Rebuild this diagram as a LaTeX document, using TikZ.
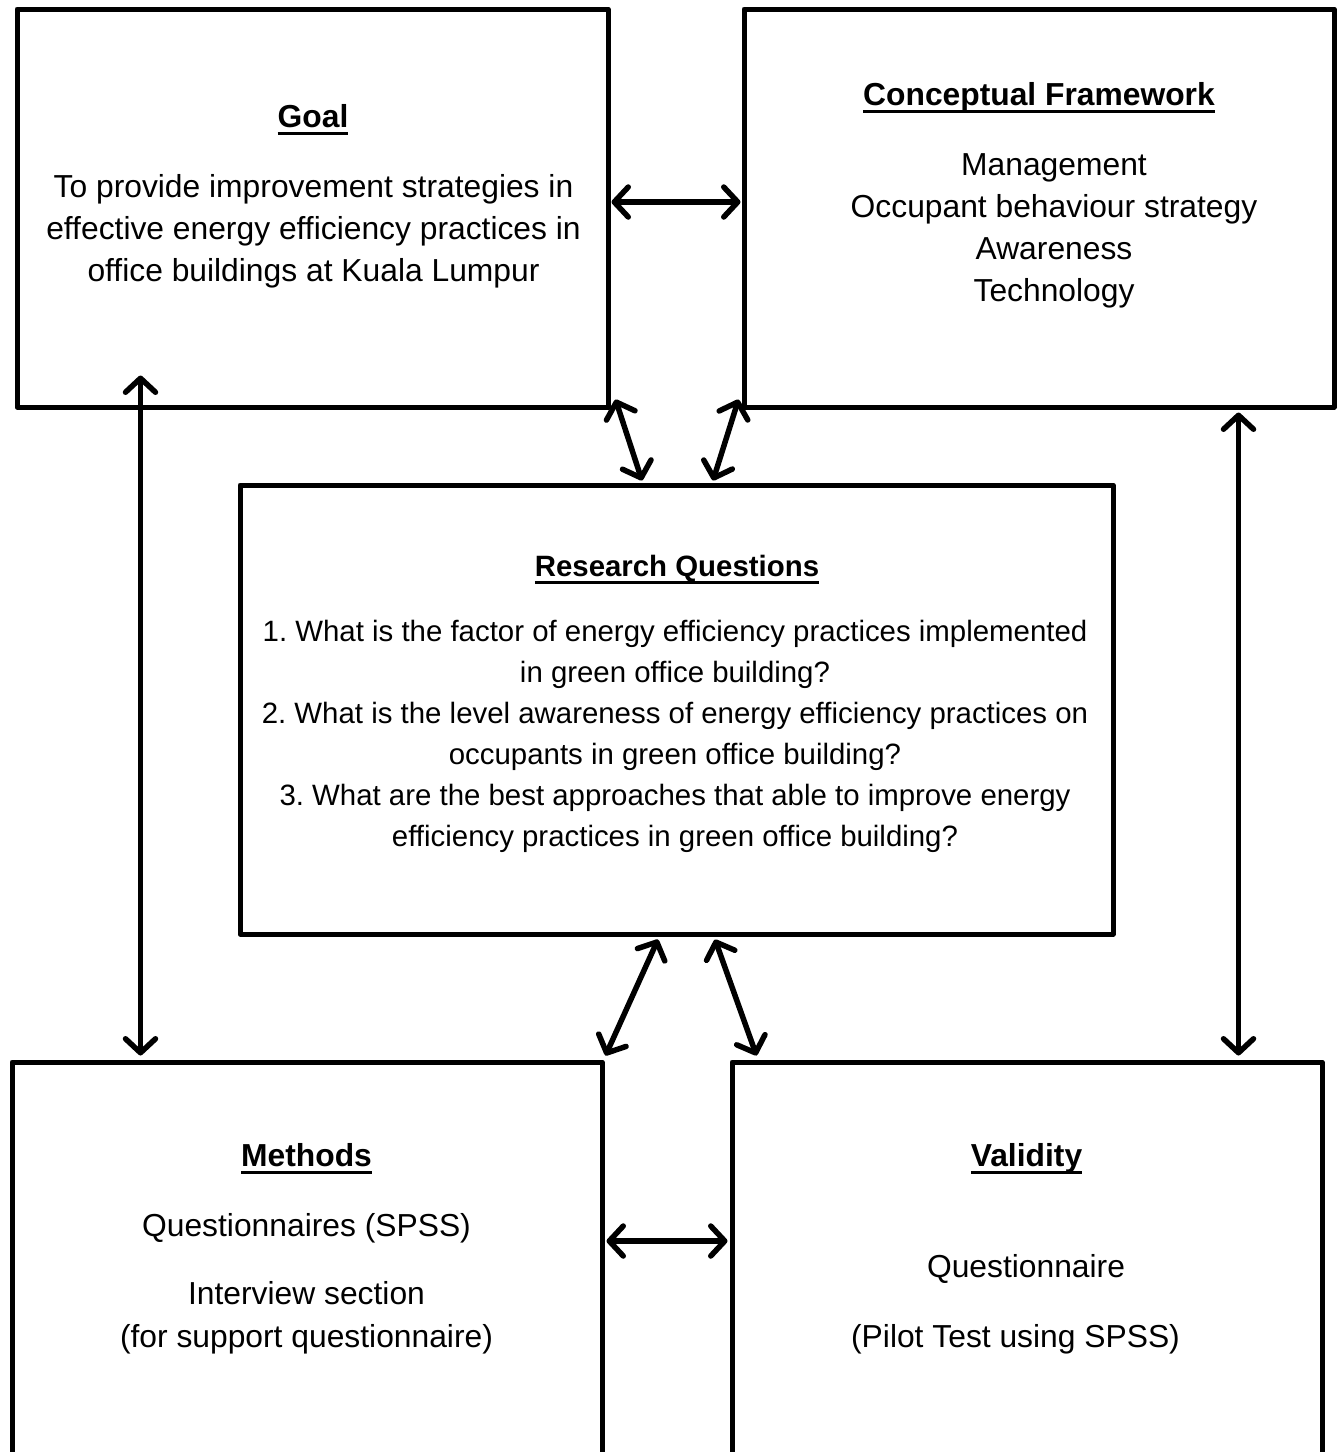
\documentclass[tikz,border=0pt]{standalone}
\usepackage{fontspec}
\setmainfont{Liberation Sans}
\usetikzlibrary{arrows.meta,calc}
\newcommand\ulbf[1]{\setbox0\hbox{\bfseries #1}\rlap{\rule[-7.5pt]{\wd0}{3pt}}\box0}
\frenchspacing
\begin{document}
\begin{tikzpicture}[x=1pt,y=-1pt,
  box/.style={draw=black,line width=5pt,rectangle,inner sep=0pt,line join=round},
  big/.style={anchor=base,inner sep=0pt,font=\fontsize{31.8}{42}\selectfont},
  rqf/.style={anchor=base,inner sep=0pt,font=\fontsize{29.4}{41}\selectfont},
  tip/.tip={Straight Barb[length=14pt,width=30pt,line cap=round,line join=round]},
  dbl/.style={line width=5.5pt,line cap=round,tip-tip}]
\useasboundingbox (0,0) rectangle (1342,1452);
\clip (0,0) rectangle (1342,1452);
% boxes
\node[box,minimum width=591pt,minimum height=398pt] (goal) at (312.5,208) {};
\node[box,minimum width=590pt,minimum height=398pt] (cf) at (1039,208) {};
\node[box,minimum width=873pt,minimum height=449pt] (rq) at (676.5,709.5) {};
\node[box,minimum width=590pt,minimum height=438pt] (meth) at (307,1281) {};
\node[box,minimum width=590pt,minimum height=438pt] (val) at (1027,1281) {};
% Goal text
\node[big] (gt) at (313,127) {\ulbf{Goal}};
\node[big] (g1) at (313.5,197) {To provide improvement strategies in};
\node[big] (g2) at (313.5,239) {effective energy efficiency practices in};
\node[big] (g3) at (313.5,281) {office buildings at Kuala Lumpur};
% Conceptual framework text
\node[big] (ct) at (1039,105) {\ulbf{Conceptual Framework}};
\node[big] (c1) at (1054,175) {Management};
\node[big] (c2) at (1054,217) {Occupant behaviour strategy};
\node[big] (c3) at (1054,259) {Awareness};
\node[big] (c4) at (1054,301) {Technology};
% Research questions text
\node[rqf] (rt) at (677,576) {\ulbf{Research Questions}};
\node[rqf] (r1) at (675,641) {1. What is the factor of energy efficiency practices implemented};
\node[rqf] (r2) at (675,682) {in green office building?};
\node[rqf] (r3) at (675,723) {2. What is the level awareness of energy efficiency practices on};
\node[rqf] (r4) at (675,764) {occupants in green office building?};
\node[rqf] (r5) at (675,805) {3. What are the best approaches that able to improve energy};
\node[rqf] (r6) at (675,846) {efficiency practices in green office building?};
% Methods text
\node[big] (mt) at (306.5,1166) {\ulbf{Methods}};
\node[big] (m1) at (306.5,1236) {Questionnaires (SPSS)};
\node[big] (m2) at (306.5,1304) {Interview section};
\node[big] (m3) at (306.5,1347) {(for support questionnaire)};
% Validity text
\node[big] (vt) at (1026.5,1166) {\ulbf{Validity}};
\node[big] (v1) at (1026,1277) {Questionnaire};
\node[big] (v2) at (1015.5,1347) {(Pilot Test using SPSS)};
% connectors
\draw[dbl] ($(goal.east)+(1,-6)$) -- ($(cf.west)+(-1,-6)$);
\draw[dbl] ($(goal.south east)+(5,-10)$) -- ($(rq.north)+(-34.5,-2)$);
\draw[dbl] ($(cf.south west)+(-3,-10)$) -- ($(rq.north)+(36.5,-2)$);
\draw[dbl] ($(rq.south)+(-18.5,3)$) -- ($(meth.north east)+(1,-4)$);
\draw[dbl] ($(rq.south)+(38.5,3)$) -- ($(val.north west)+(27,-4)$);
\draw[dbl] ($(goal.south west)+(126,-34)$) -- ($(meth.north west)+(131,-4)$);
\draw[dbl] ($(cf.south east)+(-98,3)$) -- ($(val.north east)+(-86,-4)$);
\draw[dbl] ($(meth.east)+(2,-40)$) -- ($(val.west)+(-2,-40)$);
\end{tikzpicture}
\end{document}
